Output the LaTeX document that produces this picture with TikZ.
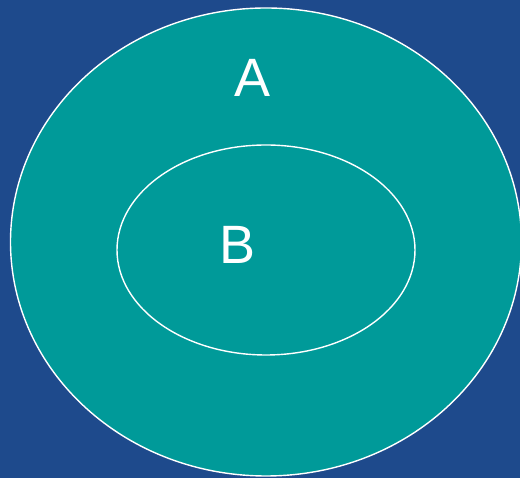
\documentclass[tikz,border=0pt]{standalone}
\usepackage{fontspec}
\setmainfont{Liberation Sans}
\usepackage{xcolor,tikz}
\usetikzlibrary{shapes.geometric,positioning}
\definecolor{slide}{HTML}{1E4A8C}
\definecolor{setfill}{HTML}{009A99}

\begin{document}
\begin{tikzpicture}[x=1pt,y=1pt,font=\fontsize{54}{60}\selectfont,
set/.style={ellipse,draw=white,line width=1.4pt,inner sep=0pt},
lbl/.style={text=white,anchor=base,inner sep=0pt}]
\fill[slide] (0,0) rectangle (520,478);
\useasboundingbox (0,0) rectangle (520,478);
\clip (0,0) rectangle (520,478);
\node[set,fill=setfill,minimum width=511pt,minimum height=468pt] (setA) at (266,236) {};
\node[set,minimum width=298pt,minimum height=210pt] (setB) at (266,228) {};
\node[lbl] (labA) at (253,381) {A};
\node[lbl] (labB) at (238,214) {B};
\end{tikzpicture}
\end{document}
